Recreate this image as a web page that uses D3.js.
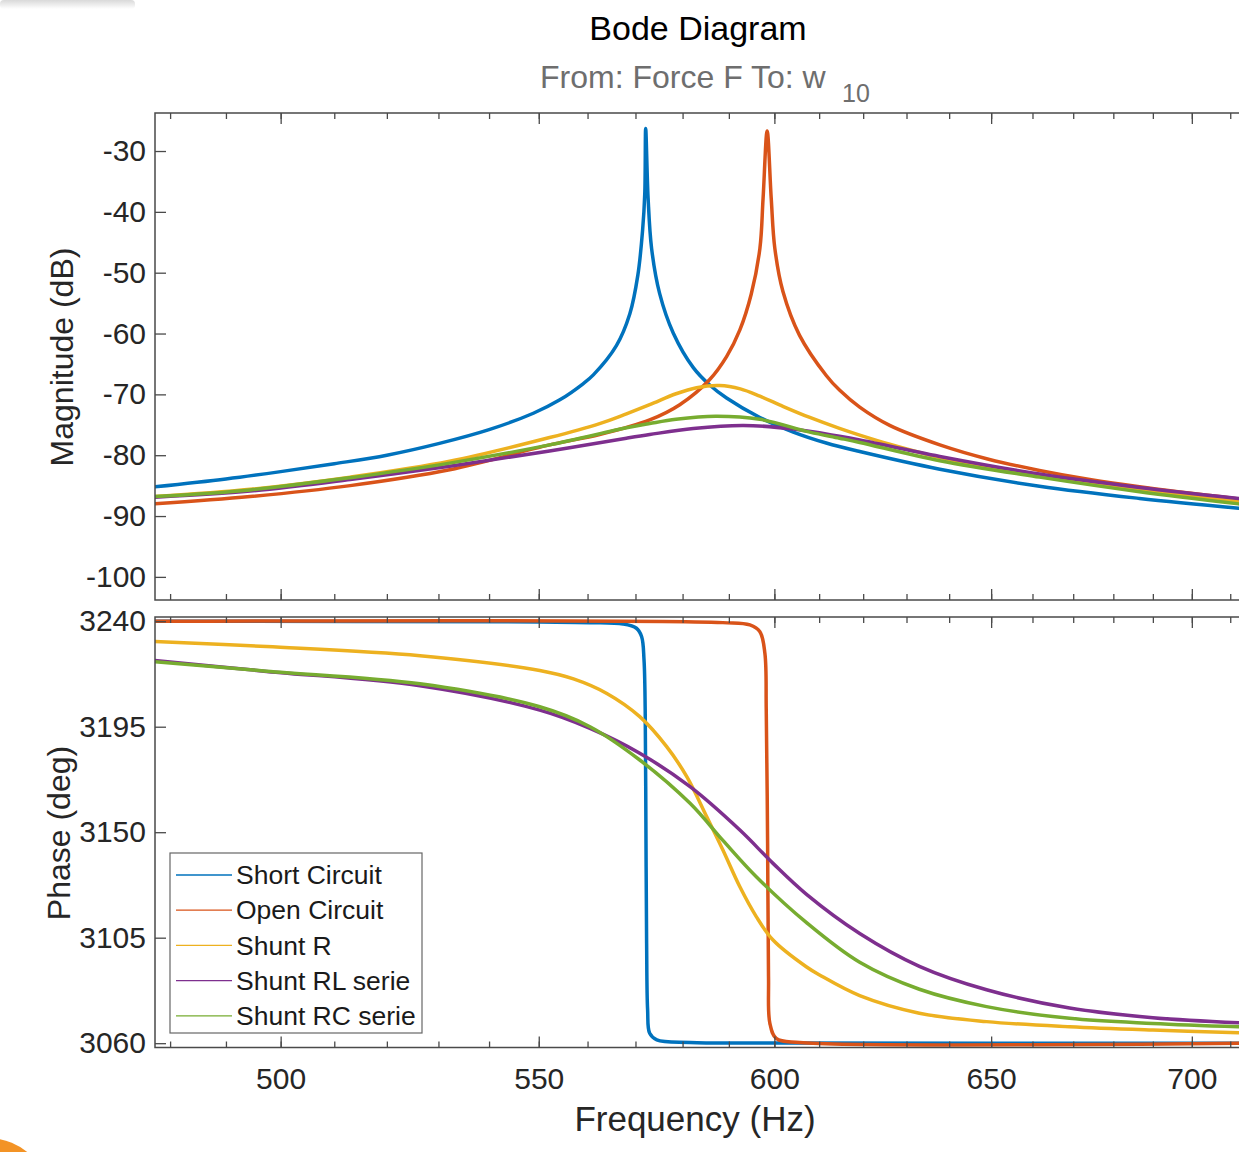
<!DOCTYPE html>
<html>
<head>
<meta charset="utf-8">
<script src="https://cdn.jsdelivr.net/npm/d3@7"></script>
<style>
  body { margin: 0; background: #fff; }
  svg { display: block; }
</style>
</head>
<body>
<div id="chart"></div>
<script>
// ---- data (frequency in Hz, value) ----
const seriesNames = ['Short Circuit', 'Open Circuit', 'Shunt R', 'Shunt RL serie', 'Shunt RC serie'];
const seriesColors = ['#0072BD', '#D95319', '#EDB120', '#7E2F8E', '#77AC30'];

const freqMinorTicks = [480, 490, 500, 510, 520, 530, 540, 550, 560, 570, 580, 590, 600, 610, 620, 630, 640, 650, 660, 670, 680, 690, 700, 710];
const freqMajorTicks = [500, 550, 600, 650, 700];
const magTicks = [-100, -90, -80, -70, -60, -50, -40, -30];
const phaseTicks = [3060, 3105, 3150, 3195, 3240];

const magShort = [[477.3,-85.2],[490,-83.9],[500,-82.7],[510,-81.4],[520,-80.0],[530,-78.1],[540,-75.8],[548.9,-73.1],[554.3,-70.9],[559.0,-68.3],[561.2,-66.8],[566.0,-62.0],[568.8,-56.8],[570.5,-50.4],[571.5,-43.0],[571.96,-37.0],[572.15,-26.3],[572.66,-37.7],[573.4,-46.0],[575.1,-53.4],[578.0,-59.9],[582.3,-65.6],[585.9,-68.5],[589.5,-70.6],[596.8,-73.8],[604.2,-76.2],[611.6,-78.0],[619.2,-79.4],[637.8,-82.3],[661.7,-85.1],[686.6,-87.1],[712.2,-88.7]];
const magOpen = [[477.3,-88.0],[494.4,-86.8],[513.0,-85.0],[532.2,-82.4],[552.2,-78.3],[562.5,-76.6],[573.0,-74.2],[579.4,-71.7],[585.8,-67.6],[589.5,-63.8],[592.4,-59.4],[594.9,-53.5],[596.8,-46.0],[597.5,-37.8],[598.4,-26.7],[599.3,-37.8],[600.1,-46.0],[601.9,-53.1],[605.6,-60.3],[611.6,-66.9],[614.6,-69.3],[619.2,-72.1],[626.1,-75.1],[637.8,-78.3],[649.6,-80.7],[661.7,-82.5],[674.1,-84.0],[686.6,-85.2],[712.2,-87.2]];
const magR = [[477.3,-86.8],[494.4,-85.6],[513.0,-83.6],[532.2,-81.0],[552.2,-77.1],[562.5,-74.8],[568.1,-73.2],[573.0,-71.7],[578.6,-69.9],[583.0,-68.9],[588.0,-68.55],[592.5,-69.1],[596.8,-70.3],[602.0,-72.0],[607.9,-73.8],[614.6,-75.6],[619.2,-76.7],[626.1,-78.2],[637.8,-80.4],[649.6,-82.0],[661.7,-83.4],[674.1,-84.6],[686.6,-85.7],[712.2,-87.6]];
const magRL = [[477.3,-86.9],[494.4,-85.9],[513.0,-84.0],[532.2,-81.8],[552.2,-79.3],[568.1,-77.2],[573.0,-76.6],[582.3,-75.6],[593.2,-75.1],[604.2,-75.7],[614.6,-76.9],[619.2,-77.5],[637.8,-80.2],[661.7,-83.1],[686.6,-85.3],[712.2,-87.1]];
const magRC = [[477.3,-86.8],[494.4,-85.7],[513.0,-83.7],[532.2,-81.3],[552.2,-78.3],[568.1,-75.5],[573.0,-74.8],[578.6,-74.1],[587.1,-73.6],[596.8,-74.1],[607.9,-76.2],[614.6,-77.2],[619.2,-77.9],[637.8,-80.9],[661.7,-83.6],[686.6,-86.0],[712.2,-88.0]];

const phaseShort = [[477.3,3240],[550.2,3239.7],[560.5,3239.4],[567.4,3238.8],[570.2,3237.0],[571.3,3233.4],[571.8,3223.5],[572.05,3202],[572.2,3152.4],[572.35,3102.6],[572.56,3074.2],[573.0,3064.2],[574.5,3061.4],[581.6,3060.3],[600,3060.1],[712.2,3060]];
const phaseOpen = [[477.3,3240],[588.7,3239.4],[594.6,3238.4],[596.8,3235.5],[597.9,3226.3],[598.2,3202.1],[598.5,3145.3],[598.7,3088.4],[599.0,3068.5],[600.4,3062.1],[605.6,3060.3],[712.2,3060]];
const phaseR = [[477.3,3231.4],[497.4,3229.2],[526.4,3225.3],[550.2,3219.0],[557.1,3215.4],[564.0,3209.2],[570.9,3199.3],[576.6,3186.5],[580.9,3173.7],[585.2,3156.6],[588.7,3142.4],[592.4,3126.7],[596.0,3114.0],[599.7,3104.0],[607.1,3092.6],[610.1,3089.1],[619.2,3080.3],[633.0,3072.8],[648.9,3069.2],[669.1,3067.0],[690.0,3065.6],[712.2,3064.5]];
const phaseRL = [[477.3,3223.3],[497.4,3218.6],[526.4,3212.5],[550.2,3202.1],[560.5,3194.3],[570.9,3183.7],[581.6,3169.4],[592.4,3150.9],[599.7,3136.7],[607.1,3123.6],[619.2,3106.8],[633.0,3092.8],[648.9,3082.8],[669.1,3075.0],[690.0,3070.9],[712.2,3068.7]];
const phaseRC = [[477.3,3222.7],[497.4,3218.7],[526.4,3213.3],[550.2,3203.5],[560.5,3195.0],[570.9,3180.8],[581.6,3162.3],[588.7,3146.5],[596.0,3131.0],[607.1,3111.5],[619.2,3094.5],[633.0,3083.0],[648.9,3075.6],[669.1,3070.6],[690.0,3068.4],[712.2,3067.0]];

const magSeries = [magShort, magOpen, magR, magRL, magRC];
const phaseSeries = [phaseShort, phaseOpen, phaseR, phaseRL, phaseRC];

// ---- layout ----
const font = '"Liberation Sans", Arial, Helvetica, sans-serif';
const width = 1239, height = 1152;
const left = 155, right = 1250;
const magTop = 113, magBottom = 600;
const phTop = 617, phBottom = 1047.5;
const axisColor = '#4a4a4a';

const svg = d3.select('#chart')
  .append('svg')
    .attr('width', width)
    .attr('height', height)
    .style('font-family', font);

// screenshot leftovers in the corners
const grad = svg.append('defs').append('linearGradient')
  .attr('id', 'shade').attr('x1', 0).attr('y1', 0).attr('x2', 0).attr('y2', 1);
grad.append('stop').attr('offset', '0%').attr('stop-color', '#d9d9d9');
grad.append('stop').attr('offset', '100%').attr('stop-color', '#fff');
svg.append('rect').attr('x', 0).attr('y', 0).attr('width', 135).attr('height', 9)
  .attr('rx', 4).attr('fill', 'url(#shade)');
svg.append('circle').attr('cx', -12).attr('cy', 1200).attr('r', 62).attr('fill', '#F39325');

const x = d3.scaleLog().domain([477.33, 715.2]).range([left, right]);
const yMag = d3.scaleLinear().domain([-103.8, -23.75]).range([magBottom, magTop]);
const yPh = d3.scaleLinear().domain([3058.16, 3241.8]).range([phBottom, phTop]);

function styleAxis(g) {
  g.select('.domain').remove();
  g.attr('font-family', font).attr('font-size', 30);
  g.selectAll('line').attr('stroke', axisColor).attr('stroke-width', 1.3);
  g.selectAll('text').attr('fill', '#262626');
}

function drawPanel(id, yScale, yTicks, top, bottom, data, showXLabels) {
  const defs = svg.append('defs');
  defs.append('clipPath').attr('id', id)
    .append('rect')
      .attr('x', left).attr('y', top)
      .attr('width', right - left).attr('height', bottom - top);

  const line = d3.line()
    .x(d => x(d[0]))
    .y(d => yScale(d[1]))
    .curve(d3.curveCatmullRom.alpha(0.5));

  svg.append('g')
    .attr('clip-path', `url(#${id})`)
    .selectAll('path')
    .data(data)
    .enter().append('path')
      .attr('fill', 'none')
      .attr('stroke', (d, i) => seriesColors[i])
      .attr('stroke-width', 3.5)
      .attr('stroke-linejoin', 'round')
      .attr('stroke-linecap', 'round')
      .attr('d', line);

  // minor + major ticks, bottom and top, pointing inwards
  svg.append('g').attr('transform', `translate(0,${bottom})`)
    .call(d3.axisBottom(x).tickValues(freqMinorTicks).tickSize(-6).tickFormat(''))
    .call(styleAxis);
  svg.append('g').attr('transform', `translate(0,${top})`)
    .call(d3.axisTop(x).tickValues(freqMinorTicks).tickSize(-6).tickFormat(''))
    .call(styleAxis);
  svg.append('g').attr('transform', `translate(0,${bottom})`)
    .call(d3.axisBottom(x).tickValues(freqMajorTicks).tickSize(-11).tickPadding(20)
      .tickFormat(showXLabels ? (d => String(d)) : ''))
    .call(styleAxis);
  svg.append('g').attr('transform', `translate(0,${top})`)
    .call(d3.axisTop(x).tickValues(freqMajorTicks).tickSize(-11).tickFormat(''))
    .call(styleAxis);

  svg.append('g').attr('transform', `translate(${left},0)`)
    .call(d3.axisLeft(yScale).tickValues(yTicks).tickSize(-11).tickPadding(9)
      .tickFormat(d => String(d)))
    .call(styleAxis);

  svg.append('rect')
    .attr('x', left).attr('y', top)
    .attr('width', right - left).attr('height', bottom - top)
    .attr('fill', 'none')
    .attr('stroke', axisColor)
    .attr('stroke-width', 1.5);
}

drawPanel('clip-mag', yMag, magTicks, magTop, magBottom, magSeries, false);
drawPanel('clip-ph', yPh, phaseTicks, phTop, phBottom, phaseSeries, true);

// titles and labels
svg.append('text')
  .attr('x', 698).attr('y', 40)
  .attr('text-anchor', 'middle')
  .attr('font-size', 34)
  .attr('fill', '#000')
  .text('Bode Diagram');

const sub = svg.append('text')
  .attr('x', 540).attr('y', 88)
  .attr('font-size', 32)
  .attr('fill', '#6e6e6e');
sub.append('tspan').text('From: Force F To: w');
sub.append('tspan').attr('x', 842).attr('y', 102).attr('font-size', 25).text('10');

svg.append('text')
  .attr('transform', 'translate(73,357) rotate(-90)')
  .attr('text-anchor', 'middle')
  .attr('font-size', 32)
  .attr('fill', '#262626')
  .text('Magnitude (dB)');

svg.append('text')
  .attr('transform', 'translate(70,833) rotate(-90)')
  .attr('text-anchor', 'middle')
  .attr('font-size', 32)
  .attr('fill', '#262626')
  .text('Phase (deg)');

svg.append('text')
  .attr('x', 695).attr('y', 1131)
  .attr('text-anchor', 'middle')
  .attr('font-size', 35)
  .attr('fill', '#262626')
  .text('Frequency (Hz)');

// legend
const legend = svg.append('g').attr('transform', 'translate(170,853)');
legend.append('rect')
  .attr('width', 252).attr('height', 180)
  .attr('fill', '#fff')
  .attr('stroke', '#666')
  .attr('stroke-width', 1.2);

const rows = legend.selectAll('.row')
  .data(seriesNames)
  .enter().append('g')
    .attr('class', 'row')
    .attr('transform', (_, i) => `translate(0,${22 + i * 35.2})`);

rows.append('line')
  .attr('x1', 6).attr('x2', 62)
  .attr('stroke', (_, i) => seriesColors[i])
  .attr('stroke-width', 1.3);

rows.append('text')
  .attr('x', 66)
  .attr('dy', '.35em')
  .attr('font-size', 26.5)
  .attr('fill', '#1a1a1a')
  .text(d => d);
</script>
</body>
</html>
